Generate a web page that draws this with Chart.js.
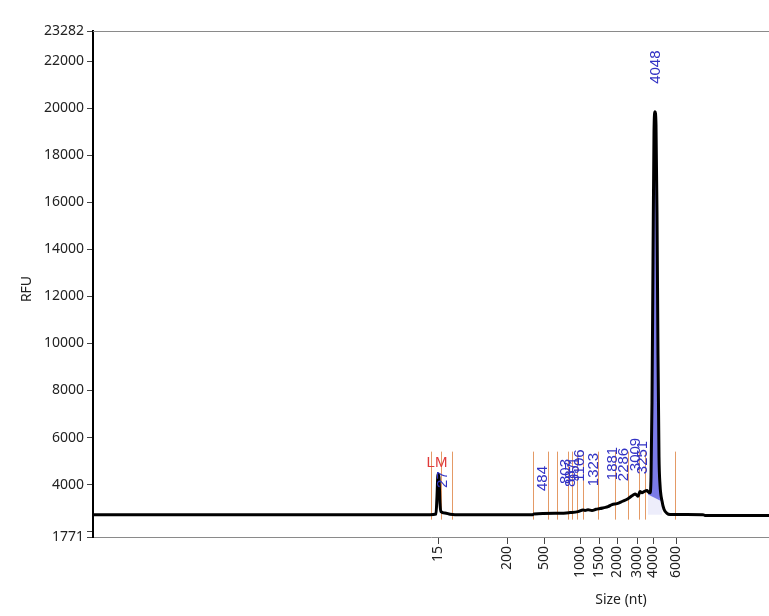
<!DOCTYPE html>
<html>
<head>
<meta charset="utf-8">
<script src="https://cdn.jsdelivr.net/npm/chart.js@4.4.0/dist/chart.umd.min.js"></script>
<style>
  html, body { margin: 0; padding: 0; background: #fff; }
  #wrap { width: 769px; height: 616px; }
</style>
</head>
<body>
<div id="wrap"><canvas id="trace" width="769" height="616"></canvas></div>
<script>
// scan position on the x axis, RFU on the y axis
const ladderPos = [345, 414, 451, 487, 506, 524, 544, 560, 583];
const ladderSizes = ['15', '200', '500', '1000', '1500', '2000', '3000', '4000', '6000'];

const yTickValues = [1771, 2000, 4000, 6000, 8000, 10000, 12000, 14000, 16000, 18000, 20000, 22000, 23282];

const tracePos = [0, 337, 343, 344, 345, 346, 347, 348, 352, 357, 362, 440, 441, 467, 477, 485, 490, 492,
  495, 499, 503, 507, 511, 515, 519, 524, 529, 535, 539, 542, 544, 545, 547, 549, 551, 554, 555, 557,
  558, 559, 560, 561, 562, 563, 564, 565, 566, 567, 569, 571, 574, 577, 610, 612, 676];
const traceRfu = [2720, 2720, 2750, 3500, 4450, 4300, 3200, 2850, 2790, 2740, 2720, 2720, 2750, 2780, 2810, 2850, 2920, 2900,
  2930, 2900, 2950, 2980, 3020, 3060, 3150, 3190, 3280, 3400, 3520, 3600, 3540, 3500, 3700, 3650, 3700, 3750, 3700, 3650,
  4300, 7500, 13500, 19000, 19850, 19300, 15500, 9500, 5200, 4000, 3300, 2950, 2780, 2730, 2720, 2690, 2690];

// peak area baseline under the main peak
const areaBasePos = [555, 569];
const areaBaseRfu = [3580, 3280];

// orange peak boundary marks
const markPos = [338, 348, 359, 440, 455, 464, 475, 479, 484, 490, 505, 522, 535, 546, 552, 582];
const markTop = 5400;
const markBottom = 2510;

// called peaks: label, position, label height
const peakNames = ['27', '484', '803', '887', '951', '1106', '1323', '1881', '2286', '3009', '3251', '4048'];
const peakPos = [350, 450, 473, 478, 482, 487, 501, 520, 531, 543, 550, 563];
const peakLabelRfu = [4214, 4257, 4555, 4427, 4640, 4810, 4640, 4895, 4852, 5278, 5150, 21745];

const markerName = 'LM';
const markerPos = 344;
const markerLabelRfu = 4940;

const tickFont = { family: '"Noto Sans", sans-serif', size: 14 };

function toPoints(xs, ys) {
  return xs.map((x, i) => ({ x: x, y: ys[i] }));
}

const tracePoints = toPoints(tracePos, traceRfu);
const areaPoints = tracePoints.filter(p => p.x >= areaBasePos[0] && p.x <= areaBasePos[1]);

const overlay = {
  id: 'overlay',
  beforeDatasetsDraw(chart) {
    const ctx = chart.ctx;
    const xs = chart.scales.x;
    const ys = chart.scales.y;
    const area = chart.chartArea;
    ctx.save();
    // frame line along the top
    ctx.strokeStyle = '#8a8a8a';
    ctx.lineWidth = 1;
    ctx.beginPath();
    ctx.moveTo(area.left, area.top + 0.5);
    ctx.lineTo(area.right, area.top + 0.5);
    ctx.stroke();
    // peak boundary marks
    ctx.strokeStyle = '#e49a66';
    markPos.forEach(p => {
      const px = Math.round(xs.getPixelForValue(p)) + 0.5;
      ctx.beginPath();
      ctx.moveTo(px, ys.getPixelForValue(markTop));
      ctx.lineTo(px, ys.getPixelForValue(markBottom));
      ctx.stroke();
    });
    ctx.restore();
  },
  afterDatasetsDraw(chart) {
    const ctx = chart.ctx;
    const xs = chart.scales.x;
    const ys = chart.scales.y;
    ctx.save();
    ctx.textAlign = 'center';
    ctx.textBaseline = 'middle';
    ctx.font = '15px "Liberation Sans", Arial, sans-serif';
    ctx.fillStyle = '#3232c4';
    peakNames.forEach((name, i) => {
      ctx.save();
      ctx.translate(xs.getPixelForValue(peakPos[i]), ys.getPixelForValue(peakLabelRfu[i]));
      ctx.rotate(-Math.PI / 2);
      ctx.fillText(name, 0, 0);
      ctx.restore();
    });
    ctx.fillStyle = '#e03a3a';
    ctx.fillText(markerName, xs.getPixelForValue(markerPos), ys.getPixelForValue(markerLabelRfu));

    // axis titles
    ctx.fillStyle = '#222';
    ctx.font = '14px "Noto Sans", sans-serif';
    ctx.fillText('Size (nt)', 621, 600);
    ctx.translate(27, 289);
    ctx.rotate(-Math.PI / 2);
    ctx.fillText('RFU', 0, 0);
    ctx.restore();
  }
};

new Chart(document.getElementById('trace'), {
  type: 'line',
  data: {
    datasets: [
      {
        label: 'trace',
        data: tracePoints,
        borderColor: '#000',
        borderWidth: 3,
        pointRadius: 0,
        cubicInterpolationMode: 'monotone',
        fill: false
      },
      {
        label: 'area',
        data: areaPoints,
        borderWidth: 0,
        pointRadius: 0,
        cubicInterpolationMode: 'monotone',
        backgroundColor: 'rgba(112, 112, 230, 0.92)',
        fill: 2
      },
      {
        label: 'areaBase',
        data: toPoints(areaBasePos, areaBaseRfu),
        borderWidth: 0,
        pointRadius: 0,
        backgroundColor: 'rgba(225, 225, 248, 0.6)',
        fill: { value: 2720 }
      }
    ]
  },
  options: {
    responsive: false,
    animation: false,
    devicePixelRatio: 1,
    layout: { padding: { top: 31, right: 0, left: 0, bottom: 0 } },
    plugins: {
      legend: { display: false },
      tooltip: { enabled: false }
    },
    scales: {
      x: {
        type: 'linear',
        min: 0,
        max: 676,
        afterBuildTicks: scale => { scale.ticks = ladderPos.map(v => ({ value: v })); },
        afterFit: scale => { scale.height = 79; },
        grid: { drawOnChartArea: false, drawTicks: true, tickLength: 7, color: '#444' },
        border: { color: '#8a8a8a', width: 1 },
        ticks: {
          minRotation: 90,
          maxRotation: 90,
          autoSkip: false,
          padding: 2,
          color: '#222',
          font: tickFont,
          callback: (val, i) => ladderSizes[i]
        }
      },
      y: {
        min: 1771,
        max: 23282,
        afterBuildTicks: scale => { scale.ticks = yTickValues.map(v => ({ value: v })); },
        afterFit: scale => { scale.width = 93; },
        grid: { drawOnChartArea: false, drawTicks: true, tickLength: 6, color: '#444' },
        border: { color: '#000', width: 2 },
        ticks: {
          autoSkip: false,
          padding: 3,
          color: '#222',
          font: tickFont,
          callback: v => (v === 2000 ? '' : String(v))
        }
      }
    }
  },
  plugins: [overlay]
});
</script>
</body>
</html>
